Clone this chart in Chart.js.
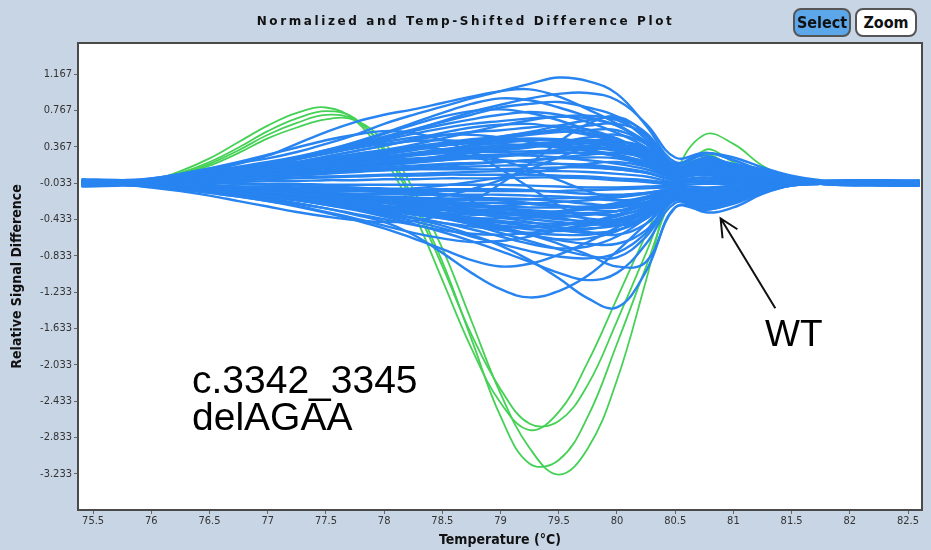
<!DOCTYPE html>
<html>
<head>
<meta charset="utf-8">
<script src="https://cdn.jsdelivr.net/npm/chart.js@4.4.1/dist/chart.umd.min.js"></script>
<style>
  body { margin: 0; background: #c8d5e5; }
  #wrap { position: relative; width: 931px; height: 550px; overflow: hidden; }
  canvas { position: absolute; left: 0; top: 0; }
  .title { position: absolute; left: 0; top: 14px; width: 931px; text-align: center;
    font: bold 12px "DejaVu Sans", sans-serif; letter-spacing: 2.6px; color: #111; }
  .btn { position: absolute; top: 8px; height: 25px; border: 2px solid #555; border-radius: 8px;
    font: bold 16px "DejaVu Sans Condensed", "DejaVu Sans", sans-serif; line-height: 25px;
    text-align: center; color: #111; }
  .sel { left: 793px; width: 54px; background: #5ca6ea; }
  .zoom { left: 855px; width: 58px; background: #fff; }
  .note { position: absolute; left: 192px; top: 361px; font: 39px "Liberation Sans", Arial, sans-serif;
    line-height: 37px; color: #000; }
  .wt { position: absolute; left: 765px; top: 315px; font: 37px "Liberation Sans", Arial, sans-serif;
    line-height: 37px; color: #000; }
</style>
</head>
<body>
<div id="wrap">
  <canvas id="plot" width="931" height="550"></canvas>
  <div class="title">Normalized and Temp-Shifted Difference Plot</div>
  <div class="btn sel">Select</div>
  <div class="btn zoom">Zoom</div>
  <div class="note">c.3342_3345<br>delAGAA</div>
  <div class="wt">WT</div>
</div>
<script>
// temperature grid (°C) shared by every curve
const temps = [75.4, 75.75, 76, 76.25, 76.5, 76.75, 77, 77.25, 77.5, 77.75, 78, 78.25, 78.5, 78.75,
  79, 79.25, 79.5, 79.75, 80, 80.25, 80.5, 80.75, 81, 81.25, 81.5, 81.75, 82, 82.25, 82.6];

const xTicks = [75.5, 76, 76.5, 77, 77.5, 78, 78.5, 79, 79.5, 80, 80.5, 81, 81.5, 82, 82.5];
const yTicks = [1.167, 0.767, 0.367, -0.033, -0.433, -0.833, -1.233, -1.633, -2.033, -2.433, -2.833, -3.233];

// blue group (wild type samples)
const wtCurves = [
  [-0.01,0.0,0.02,0.07,0.13,0.19,0.24,0.31,0.4,0.5,0.62,0.72,0.81,0.9,0.98,1.06,1.13,1.09,0.95,0.6,0.2,0.3,0.22,0.1,0.02,-0.02,-0.04,-0.03,-0.02],
  [-0.03,-0.02,0.0,0.05,0.11,0.18,0.27,0.4,0.53,0.64,0.72,0.78,0.85,0.92,0.98,1.0,0.92,0.78,0.62,0.4,0.12,0.24,0.18,0.12,0.04,-0.01,-0.03,-0.04,-0.03],
  [-0.05,-0.04,-0.01,0.03,0.08,0.13,0.18,0.24,0.3,0.37,0.45,0.55,0.65,0.75,0.83,0.9,0.95,0.96,0.88,0.62,0.25,0.3,0.25,0.14,0.05,0.0,-0.02,-0.03,-0.05],
  [-0.02,-0.02,0.0,0.04,0.1,0.15,0.2,0.26,0.33,0.4,0.48,0.56,0.64,0.72,0.8,0.84,0.86,0.8,0.7,0.45,0.18,0.27,0.16,0.06,0.0,-0.03,-0.02,-0.03,-0.04],
  [-0.04,-0.03,0.0,0.04,0.09,0.14,0.19,0.25,0.32,0.41,0.51,0.61,0.7,0.76,0.78,0.74,0.66,0.55,0.42,0.28,0.1,0.2,0.12,0.04,-0.01,-0.04,-0.03,-0.02,-0.03],
  [-0.03,-0.03,-0.02,0.01,0.05,0.09,0.13,0.17,0.22,0.27,0.33,0.39,0.46,0.53,0.6,0.66,0.7,0.71,0.66,0.48,0.15,0.22,0.18,0.08,0.01,-0.02,-0.04,-0.03,-0.02],
  [-0.02,-0.02,0.0,0.03,0.07,0.11,0.15,0.2,0.26,0.32,0.38,0.45,0.52,0.58,0.61,0.62,0.58,0.52,0.45,0.32,0.12,0.16,0.1,0.03,-0.02,-0.03,-0.03,-0.05,-0.04],
  [-0.04,-0.03,-0.01,0.02,0.06,0.1,0.14,0.18,0.22,0.26,0.3,0.34,0.38,0.42,0.46,0.5,0.53,0.55,0.55,0.4,0.1,0.14,0.08,0.02,-0.02,-0.03,-0.02,-0.03,-0.03],
  [-0.03,-0.02,0.0,0.04,0.09,0.14,0.19,0.25,0.31,0.37,0.42,0.47,0.5,0.5,0.47,0.42,0.38,0.33,0.27,0.2,0.08,0.11,0.06,0.0,-0.03,-0.03,-0.04,-0.03,-0.03],
  [-0.05,-0.04,-0.02,0.0,0.03,0.06,0.1,0.14,0.18,0.22,0.26,0.3,0.34,0.38,0.41,0.44,0.45,0.42,0.36,0.25,0.06,0.1,0.04,-0.01,-0.03,-0.04,-0.03,-0.02,-0.03],
  [-0.02,-0.03,-0.01,0.01,0.04,0.07,0.1,0.13,0.17,0.21,0.25,0.29,0.32,0.35,0.37,0.38,0.36,0.32,0.26,0.18,0.05,0.07,0.02,-0.02,-0.03,-0.03,-0.03,-0.04,-0.02],
  [-0.03,-0.03,-0.02,0.0,0.02,0.04,0.06,0.08,0.1,0.13,0.16,0.19,0.22,0.25,0.27,0.29,0.3,0.3,0.27,0.18,0.04,0.06,0.01,-0.02,-0.04,-0.03,-0.03,-0.03,-0.04],
  [-0.04,-0.03,-0.01,0.01,0.04,0.07,0.1,0.13,0.16,0.19,0.22,0.24,0.25,0.24,0.22,0.2,0.18,0.15,0.12,0.08,0.01,0.03,-0.01,-0.03,-0.03,-0.02,-0.03,-0.03,-0.03],
  [-0.03,-0.03,-0.02,-0.01,0.01,0.02,0.04,0.05,0.07,0.09,0.11,0.12,0.14,0.15,0.16,0.17,0.18,0.17,0.14,0.09,0.0,0.02,-0.02,-0.03,-0.03,-0.03,-0.04,-0.03,-0.03],
  [-0.02,-0.03,-0.02,-0.01,0.0,0.01,0.02,0.03,0.04,0.05,0.06,0.07,0.08,0.09,0.1,0.1,0.1,0.09,0.07,0.04,-0.02,0.0,-0.03,-0.03,-0.03,-0.03,-0.03,-0.02,-0.03],
  [-0.03,-0.03,-0.03,-0.03,-0.02,-0.02,-0.01,-0.01,0.0,0.0,0.01,0.01,0.02,0.02,0.02,0.03,0.03,0.02,0.0,-0.02,-0.05,-0.04,-0.04,-0.03,-0.03,-0.03,-0.03,-0.03,-0.03],
  [-0.04,-0.04,-0.04,-0.05,-0.06,-0.07,-0.08,-0.09,-0.1,-0.1,-0.11,-0.12,-0.12,-0.12,-0.12,-0.12,-0.12,-0.11,-0.1,-0.09,-0.08,-0.1,-0.07,-0.04,-0.03,-0.03,-0.03,-0.03,-0.03],
  [-0.03,-0.04,-0.05,-0.07,-0.09,-0.11,-0.13,-0.15,-0.17,-0.19,-0.2,-0.21,-0.22,-0.22,-0.22,-0.21,-0.2,-0.19,-0.17,-0.14,-0.1,-0.15,-0.12,-0.07,-0.04,-0.03,-0.03,-0.04,-0.03],
  [-0.06,-0.05,-0.05,-0.07,-0.09,-0.11,-0.13,-0.15,-0.17,-0.19,-0.21,-0.23,-0.25,-0.27,-0.29,-0.3,-0.3,-0.29,-0.26,-0.2,-0.12,-0.19,-0.15,-0.09,-0.05,-0.04,-0.03,-0.03,-0.04],
  [-0.03,-0.04,-0.06,-0.08,-0.11,-0.14,-0.17,-0.2,-0.23,-0.27,-0.3,-0.33,-0.36,-0.38,-0.38,-0.37,-0.35,-0.32,-0.28,-0.21,-0.13,-0.21,-0.17,-0.1,-0.05,-0.03,-0.04,-0.03,-0.03],
  [-0.04,-0.03,-0.05,-0.07,-0.09,-0.11,-0.13,-0.16,-0.19,-0.22,-0.25,-0.28,-0.31,-0.34,-0.37,-0.4,-0.43,-0.45,-0.44,-0.34,-0.16,-0.25,-0.2,-0.11,-0.05,-0.04,-0.03,-0.03,-0.02],
  [-0.03,-0.04,-0.06,-0.09,-0.12,-0.15,-0.18,-0.22,-0.26,-0.3,-0.34,-0.38,-0.42,-0.46,-0.5,-0.52,-0.5,-0.46,-0.4,-0.3,-0.15,-0.23,-0.18,-0.1,-0.04,-0.03,-0.03,-0.04,-0.03],
  [-0.05,-0.04,-0.04,-0.06,-0.08,-0.1,-0.12,-0.14,-0.17,-0.2,-0.23,-0.27,-0.31,-0.36,-0.41,-0.46,-0.52,-0.57,-0.6,-0.48,-0.2,-0.3,-0.24,-0.13,-0.06,-0.04,-0.03,-0.03,-0.04],
  [-0.03,-0.05,-0.07,-0.1,-0.14,-0.18,-0.23,-0.28,-0.35,-0.42,-0.5,-0.58,-0.64,-0.68,-0.67,-0.62,-0.55,-0.47,-0.38,-0.27,-0.14,-0.21,-0.16,-0.09,-0.04,-0.03,-0.03,-0.03,-0.03],
  [-0.04,-0.04,-0.06,-0.08,-0.11,-0.14,-0.17,-0.21,-0.25,-0.3,-0.35,-0.41,-0.47,-0.54,-0.62,-0.7,-0.75,-0.73,-0.62,-0.42,-0.18,-0.27,-0.21,-0.11,-0.05,-0.03,-0.04,-0.03,-0.03],
  [-0.03,-0.03,-0.05,-0.07,-0.09,-0.11,-0.13,-0.16,-0.19,-0.23,-0.28,-0.34,-0.41,-0.49,-0.58,-0.67,-0.76,-0.83,-0.85,-0.62,-0.22,-0.32,-0.26,-0.14,-0.06,-0.04,-0.03,-0.03,-0.03],
  [-0.03,-0.03,-0.04,-0.05,-0.07,-0.09,-0.11,-0.13,-0.16,-0.19,-0.22,-0.26,-0.3,-0.34,-0.37,-0.39,-0.4,-0.38,-0.34,-0.26,-0.2,-0.35,-0.3,-0.15,-0.06,-0.04,-0.03,-0.03,-0.03],
  [-0.03,-0.04,-0.06,-0.09,-0.12,-0.16,-0.2,-0.25,-0.31,-0.38,-0.46,-0.6,-0.8,-1.02,-1.2,-1.29,-1.22,-1.05,-0.78,-0.48,-0.2,-0.28,-0.22,-0.12,-0.05,-0.03,-0.03,-0.04,-0.03],
  [-0.04,-0.03,-0.05,-0.07,-0.1,-0.13,-0.16,-0.2,-0.24,-0.29,-0.35,-0.42,-0.5,-0.6,-0.72,-0.88,-1.08,-1.3,-1.4,-1.0,-0.3,-0.3,-0.24,-0.13,-0.05,-0.03,-0.03,-0.03,-0.03],
  [-0.03,-0.04,-0.06,-0.08,-0.11,-0.14,-0.18,-0.22,-0.27,-0.33,-0.4,-0.48,-0.57,-0.67,-0.78,-0.9,-1.02,-1.1,-1.02,-0.7,-0.25,-0.31,-0.23,-0.12,-0.05,-0.04,-0.03,-0.03,-0.04],
  [-0.03,-0.04,-0.07,-0.1,-0.14,-0.18,-0.23,-0.29,-0.36,-0.44,-0.53,-0.64,-0.76,-0.88,-0.95,-0.92,-0.82,-0.68,-0.52,-0.36,-0.17,-0.25,-0.19,-0.1,-0.04,-0.03,-0.03,-0.03,-0.03],
  [-0.03,-0.03,-0.04,-0.06,-0.08,-0.1,-0.12,-0.15,-0.18,-0.21,-0.25,-0.3,-0.36,-0.43,-0.51,-0.6,-0.7,-0.82,-0.95,-0.9,-0.3,-0.33,-0.25,-0.13,-0.05,-0.03,-0.04,-0.03,-0.03],
  [-0.02,-0.01,0.02,0.07,0.13,0.2,0.28,0.36,0.44,0.5,0.54,0.52,0.44,0.3,0.12,-0.08,-0.28,-0.44,-0.5,-0.4,-0.15,-0.2,-0.14,-0.07,-0.03,-0.03,-0.03,-0.03,-0.03],
  [-0.04,-0.05,-0.08,-0.12,-0.17,-0.23,-0.29,-0.35,-0.4,-0.44,-0.46,-0.45,-0.38,-0.24,-0.04,0.18,0.42,0.62,0.7,0.5,0.15,0.24,0.16,0.06,0.0,-0.02,-0.03,-0.03,-0.03],
  [-0.03,-0.02,0.0,0.03,0.07,0.12,0.18,0.25,0.33,0.42,0.52,0.63,0.74,0.84,0.9,0.88,0.8,0.7,0.6,0.42,0.15,0.2,0.14,0.05,0.0,-0.03,-0.03,-0.03,-0.03],
  [-0.03,-0.03,-0.02,0.0,0.02,0.05,0.08,0.11,0.15,0.19,0.23,0.28,0.33,0.39,0.45,0.51,0.56,0.6,0.62,0.5,0.18,0.3,0.22,0.1,0.02,-0.02,-0.03,-0.03,-0.03],
  [-0.03,-0.04,-0.05,-0.07,-0.1,-0.13,-0.16,-0.2,-0.24,-0.28,-0.32,-0.37,-0.42,-0.48,-0.54,-0.6,-0.65,-0.64,-0.56,-0.38,-0.16,-0.26,-0.2,-0.1,-0.04,-0.03,-0.03,-0.03,-0.03],
  [-0.03,-0.02,0.0,0.03,0.06,0.1,0.14,0.19,0.24,0.29,0.33,0.35,0.34,0.3,0.22,0.12,0.0,-0.12,-0.22,-0.25,-0.1,-0.12,-0.09,-0.05,-0.03,-0.03,-0.03,-0.03,-0.03],
  [-0.03,-0.04,-0.05,-0.07,-0.1,-0.13,-0.16,-0.19,-0.22,-0.24,-0.25,-0.23,-0.18,-0.1,0.0,0.12,0.25,0.36,0.4,0.3,0.1,0.17,0.11,0.04,0.0,-0.03,-0.03,-0.03,-0.03],
  [-0.03,-0.03,-0.04,-0.05,-0.07,-0.09,-0.1,-0.11,-0.12,-0.12,-0.11,-0.09,-0.06,-0.02,0.03,0.08,0.13,0.18,0.2,0.15,0.03,0.08,0.04,0.0,-0.02,-0.03,-0.03,-0.03,-0.03],
  [-0.03,-0.03,-0.01,0.02,0.05,0.08,0.12,0.16,0.2,0.24,0.28,0.33,0.38,0.43,0.48,0.52,0.54,0.5,0.42,0.28,0.08,0.12,0.06,0.01,-0.03,-0.03,-0.03,-0.03,-0.03],
  [-0.03,-0.04,-0.05,-0.06,-0.08,-0.1,-0.12,-0.14,-0.16,-0.18,-0.21,-0.24,-0.28,-0.32,-0.35,-0.36,-0.34,-0.3,-0.25,-0.18,-0.1,-0.16,-0.11,-0.06,-0.03,-0.03,-0.03,-0.03,-0.03],
  [-0.03,-0.03,-0.02,-0.01,0.01,0.03,0.05,0.07,0.1,0.13,0.17,0.21,0.26,0.31,0.36,0.4,0.42,0.42,0.38,0.26,0.08,0.13,0.08,0.02,-0.02,-0.03,-0.03,-0.03,-0.03],
  [-0.03,-0.04,-0.05,-0.07,-0.09,-0.12,-0.15,-0.18,-0.21,-0.25,-0.29,-0.34,-0.4,-0.46,-0.53,-0.6,-0.66,-0.7,-0.7,-0.55,-0.2,-0.28,-0.22,-0.11,-0.05,-0.03,-0.03,-0.03,-0.03],
  [-0.03,-0.03,-0.03,-0.03,-0.03,-0.04,-0.05,-0.06,-0.07,-0.08,-0.1,-0.12,-0.15,-0.18,-0.22,-0.26,-0.29,-0.3,-0.28,-0.2,-0.08,-0.14,-0.1,-0.05,-0.03,-0.03,-0.03,-0.03,-0.03],
  [-0.03,-0.03,-0.02,0.0,0.02,0.05,0.08,0.11,0.14,0.17,0.2,0.22,0.24,0.26,0.28,0.3,0.32,0.34,0.34,0.26,0.1,0.18,0.13,0.05,0.0,-0.03,-0.03,-0.03,-0.03],
  [-0.04,-0.03,-0.01,0.02,0.06,0.1,0.15,0.2,0.26,0.32,0.38,0.44,0.49,0.53,0.55,0.58,0.6,0.56,0.46,0.3,0.1,0.18,0.1,0.02,-0.02,-0.03,-0.03,-0.03,-0.03],
  [-0.03,-0.03,-0.02,0.01,0.04,0.08,0.12,0.17,0.22,0.27,0.32,0.37,0.41,0.45,0.48,0.53,0.6,0.66,0.68,0.52,0.16,0.24,0.14,0.04,-0.01,-0.03,-0.03,-0.03,-0.03],
  [-0.03,-0.02,0.0,0.03,0.07,0.12,0.17,0.23,0.29,0.35,0.4,0.43,0.44,0.42,0.4,0.38,0.36,0.33,0.28,0.2,0.07,0.12,0.07,0.01,-0.03,-0.03,-0.03,-0.03,-0.03],
  [-0.03,-0.03,-0.02,0.0,0.03,0.06,0.09,0.12,0.15,0.19,0.23,0.27,0.3,0.32,0.33,0.36,0.4,0.41,0.36,0.22,0.05,0.1,0.05,0.0,-0.03,-0.03,-0.03,-0.03,-0.03],
  [-0.04,-0.04,-0.03,-0.01,0.01,0.04,0.07,0.1,0.13,0.16,0.19,0.22,0.25,0.27,0.28,0.27,0.25,0.22,0.18,0.12,0.03,0.07,0.03,-0.01,-0.03,-0.03,-0.03,-0.03,-0.03],
  [-0.03,-0.03,-0.02,0.0,0.02,0.04,0.06,0.08,0.1,0.12,0.14,0.16,0.18,0.19,0.2,0.22,0.24,0.25,0.24,0.16,0.04,0.08,0.04,0.0,-0.03,-0.03,-0.03,-0.03,-0.03],
  [-0.02,-0.02,-0.01,0.0,0.02,0.04,0.06,0.08,0.09,0.1,0.11,0.12,0.12,0.12,0.12,0.13,0.14,0.14,0.12,0.08,0.0,0.03,0.0,-0.02,-0.03,-0.03,-0.03,-0.03,-0.03],
  [-0.04,-0.04,-0.03,-0.02,-0.01,0.0,0.01,0.02,0.03,0.04,0.05,0.05,0.06,0.06,0.06,0.06,0.05,0.04,0.02,0.0,-0.03,-0.02,-0.03,-0.03,-0.03,-0.03,-0.03,-0.03,-0.03],
  [-0.03,-0.03,-0.03,-0.03,-0.03,-0.04,-0.04,-0.04,-0.05,-0.05,-0.05,-0.05,-0.05,-0.05,-0.05,-0.06,-0.07,-0.08,-0.08,-0.07,-0.06,-0.08,-0.06,-0.04,-0.03,-0.03,-0.03,-0.03,-0.03],
  [-0.02,-0.03,-0.04,-0.05,-0.06,-0.07,-0.07,-0.08,-0.08,-0.09,-0.09,-0.1,-0.1,-0.1,-0.1,-0.11,-0.13,-0.15,-0.16,-0.14,-0.1,-0.13,-0.09,-0.05,-0.03,-0.03,-0.03,-0.03,-0.03],
  [-0.03,-0.04,-0.05,-0.06,-0.08,-0.1,-0.12,-0.13,-0.14,-0.15,-0.15,-0.16,-0.16,-0.16,-0.16,-0.17,-0.18,-0.2,-0.22,-0.2,-0.12,-0.17,-0.12,-0.06,-0.03,-0.03,-0.03,-0.03,-0.03],
  [-0.04,-0.05,-0.06,-0.08,-0.1,-0.12,-0.14,-0.16,-0.18,-0.2,-0.22,-0.23,-0.24,-0.25,-0.25,-0.26,-0.28,-0.32,-0.34,-0.28,-0.15,-0.22,-0.16,-0.08,-0.04,-0.03,-0.03,-0.03,-0.03],
  [-0.03,-0.04,-0.06,-0.09,-0.12,-0.15,-0.18,-0.21,-0.24,-0.27,-0.29,-0.3,-0.3,-0.29,-0.28,-0.26,-0.24,-0.22,-0.19,-0.15,-0.1,-0.14,-0.1,-0.05,-0.03,-0.03,-0.03,-0.03,-0.03],
  [-0.03,-0.03,-0.04,-0.06,-0.08,-0.1,-0.12,-0.15,-0.18,-0.21,-0.24,-0.27,-0.3,-0.32,-0.33,-0.35,-0.38,-0.42,-0.44,-0.36,-0.18,-0.24,-0.17,-0.08,-0.04,-0.03,-0.03,-0.03,-0.03],
  [-0.04,-0.05,-0.07,-0.09,-0.12,-0.15,-0.18,-0.22,-0.26,-0.3,-0.34,-0.37,-0.4,-0.42,-0.42,-0.41,-0.4,-0.38,-0.34,-0.27,-0.15,-0.22,-0.16,-0.08,-0.04,-0.03,-0.03,-0.03,-0.03],
  [-0.03,-0.04,-0.05,-0.07,-0.09,-0.11,-0.14,-0.17,-0.21,-0.25,-0.29,-0.33,-0.37,-0.41,-0.45,-0.5,-0.55,-0.58,-0.55,-0.42,-0.18,-0.27,-0.2,-0.1,-0.04,-0.03,-0.03,-0.03,-0.03],
  [-0.03,-0.04,-0.06,-0.08,-0.11,-0.14,-0.18,-0.22,-0.27,-0.32,-0.37,-0.42,-0.47,-0.51,-0.55,-0.58,-0.6,-0.6,-0.55,-0.42,-0.19,-0.28,-0.21,-0.1,-0.04,-0.03,-0.03,-0.03,-0.03],
  [-0.03,-0.05,-0.07,-0.1,-0.13,-0.17,-0.21,-0.26,-0.31,-0.37,-0.43,-0.49,-0.55,-0.59,-0.6,-0.58,-0.54,-0.5,-0.45,-0.36,-0.18,-0.25,-0.18,-0.09,-0.04,-0.03,-0.03,-0.03,-0.03],
  [-0.03,-0.02,0.0,0.04,0.08,0.13,0.18,0.24,0.3,0.37,0.44,0.51,0.57,0.62,0.65,0.68,0.7,0.68,0.6,0.42,0.14,0.22,0.14,0.04,-0.01,-0.03,-0.03,-0.03,-0.03],
  [-0.04,-0.03,-0.01,0.03,0.07,0.12,0.17,0.23,0.3,0.38,0.46,0.54,0.61,0.67,0.72,0.75,0.72,0.64,0.52,0.36,0.12,0.2,0.12,0.03,-0.02,-0.03,-0.03,-0.03,-0.03],
  [-0.03,-0.04,-0.05,-0.07,-0.1,-0.13,-0.17,-0.21,-0.26,-0.32,-0.38,-0.45,-0.53,-0.62,-0.7,-0.78,-0.84,-0.86,-0.8,-0.58,-0.22,-0.3,-0.22,-0.1,-0.04,-0.03,-0.03,-0.03,-0.03],
  [-0.03,-0.04,-0.06,-0.08,-0.1,-0.13,-0.16,-0.2,-0.24,-0.28,-0.32,-0.36,-0.4,-0.45,-0.5,-0.54,-0.56,-0.54,-0.48,-0.36,-0.17,-0.25,-0.18,-0.09,-0.04,-0.03,-0.03,-0.03,-0.03],
  [-0.03,-0.02,-0.01,0.01,0.04,0.07,0.1,0.13,0.16,0.2,0.24,0.28,0.31,0.34,0.36,0.38,0.42,0.47,0.5,0.4,0.14,0.22,0.14,0.04,-0.01,-0.03,-0.03,-0.03,-0.03],
  [-0.03,-0.04,-0.05,-0.06,-0.08,-0.1,-0.12,-0.14,-0.16,-0.17,-0.18,-0.19,-0.2,-0.2,-0.2,-0.21,-0.23,-0.26,-0.28,-0.24,-0.13,-0.2,-0.14,-0.07,-0.03,-0.03,-0.03,-0.03,-0.03],
  [-0.07,-0.06,-0.04,-0.02,0.01,0.05,0.09,0.14,0.19,0.24,0.29,0.34,0.38,0.41,0.43,0.44,0.44,0.43,0.4,0.3,0.1,0.16,0.1,0.03,-0.01,-0.04,-0.05,-0.06,-0.06],
  [0.0,0.0,-0.01,-0.03,-0.05,-0.08,-0.11,-0.14,-0.17,-0.21,-0.25,-0.29,-0.33,-0.37,-0.4,-0.43,-0.46,-0.48,-0.47,-0.36,-0.15,-0.22,-0.15,-0.07,-0.02,-0.01,0.0,-0.01,0.0],
  [-0.06,-0.05,-0.03,0.0,0.03,0.07,0.11,0.15,0.19,0.23,0.26,0.28,0.3,0.31,0.31,0.32,0.33,0.35,0.36,0.28,0.08,0.14,0.08,0.02,-0.02,-0.04,-0.05,-0.05,-0.06],
  [0.01,0.0,-0.02,-0.04,-0.07,-0.1,-0.13,-0.16,-0.2,-0.24,-0.28,-0.31,-0.33,-0.35,-0.36,-0.37,-0.37,-0.36,-0.34,-0.27,-0.13,-0.2,-0.14,-0.06,-0.02,-0.01,0.0,0.0,-0.01],
  [-0.06,-0.05,-0.03,-0.01,0.02,0.05,0.08,0.11,0.14,0.17,0.2,0.23,0.26,0.3,0.34,0.38,0.42,0.44,0.43,0.34,0.12,0.2,0.12,0.03,-0.02,-0.04,-0.06,-0.05,-0.05],
  [0.0,-0.01,-0.02,-0.04,-0.06,-0.08,-0.1,-0.12,-0.14,-0.17,-0.2,-0.23,-0.26,-0.29,-0.31,-0.33,-0.35,-0.37,-0.38,-0.31,-0.14,-0.21,-0.14,-0.06,-0.02,-0.01,-0.01,0.0,-0.01],
  [-0.05,-0.04,-0.03,0.0,0.03,0.07,0.11,0.16,0.21,0.26,0.31,0.36,0.4,0.43,0.45,0.46,0.45,0.42,0.37,0.27,0.08,0.13,0.07,0.01,-0.03,-0.04,-0.05,-0.04,-0.05],
  [-0.02,-0.03,-0.05,-0.07,-0.1,-0.13,-0.16,-0.2,-0.24,-0.28,-0.32,-0.36,-0.39,-0.42,-0.45,-0.47,-0.48,-0.47,-0.43,-0.33,-0.16,-0.23,-0.16,-0.08,-0.03,-0.02,-0.02,-0.01,-0.02],
  [-0.06,-0.04,-0.02,0.01,0.04,0.07,0.1,0.12,0.14,0.16,0.18,0.2,0.22,0.24,0.26,0.29,0.33,0.38,0.42,0.36,0.12,0.2,0.13,0.04,-0.01,-0.04,-0.05,-0.06,-0.05],
  [-0.01,-0.02,-0.03,-0.05,-0.07,-0.09,-0.11,-0.13,-0.15,-0.17,-0.19,-0.21,-0.23,-0.26,-0.3,-0.35,-0.41,-0.47,-0.5,-0.42,-0.18,-0.26,-0.18,-0.08,-0.03,-0.02,-0.01,-0.01,-0.02],
  [-0.05,-0.04,-0.02,0.0,0.03,0.06,0.09,0.13,0.17,0.21,0.25,0.29,0.33,0.36,0.38,0.39,0.38,0.36,0.32,0.24,0.09,0.15,0.09,0.02,-0.02,-0.04,-0.04,-0.05,-0.05],
  [-0.02,-0.03,-0.04,-0.06,-0.08,-0.11,-0.14,-0.17,-0.21,-0.25,-0.3,-0.35,-0.4,-0.44,-0.47,-0.5,-0.52,-0.53,-0.5,-0.4,-0.18,-0.26,-0.19,-0.09,-0.03,-0.02,-0.02,-0.02,-0.01],
  [-0.06,-0.05,-0.04,-0.02,0.0,0.02,0.04,0.06,0.08,0.1,0.12,0.14,0.16,0.18,0.2,0.22,0.25,0.28,0.3,0.24,0.08,0.14,0.08,0.02,-0.02,-0.04,-0.05,-0.05,-0.06],
  [-0.01,-0.02,-0.03,-0.05,-0.07,-0.08,-0.09,-0.1,-0.11,-0.12,-0.13,-0.14,-0.16,-0.19,-0.22,-0.25,-0.28,-0.3,-0.3,-0.24,-0.11,-0.17,-0.12,-0.05,-0.02,-0.01,-0.01,-0.02,-0.01],
  [-0.05,-0.04,-0.03,-0.01,0.01,0.03,0.05,0.08,0.11,0.14,0.18,0.22,0.27,0.32,0.36,0.39,0.4,0.38,0.33,0.24,0.08,0.14,0.08,0.02,-0.02,-0.04,-0.05,-0.05,-0.04]
];

// green group (c.3342_3345delAGAA samples)
const mutantCurves = [
  [-0.03,-0.02,0.0,0.1,0.24,0.42,0.6,0.74,0.8,0.66,0.25,-0.35,-1.1,-1.85,-2.45,-2.75,-2.55,-2.0,-1.3,-0.6,0.05,0.28,0.14,0.02,-0.02,-0.03,-0.03,-0.03,-0.03],
  [-0.03,-0.02,0.0,0.08,0.2,0.36,0.54,0.68,0.76,0.68,0.32,-0.25,-0.95,-1.7,-2.3,-2.68,-2.65,-2.25,-1.55,-0.8,-0.05,0.25,0.12,0.02,-0.02,-0.03,-0.03,-0.03,-0.03],
  [-0.03,-0.02,0.0,0.07,0.18,0.33,0.5,0.63,0.72,0.66,0.35,-0.2,-0.9,-1.75,-2.6,-3.12,-3.08,-2.6,-1.8,-0.95,-0.1,0.33,0.2,0.04,-0.02,-0.03,-0.03,-0.03,-0.03],
  [-0.03,-0.02,0.0,0.06,0.16,0.3,0.46,0.58,0.67,0.66,0.42,-0.1,-0.75,-1.55,-2.35,-2.95,-3.24,-2.95,-2.2,-1.1,0.05,0.5,0.4,0.16,0.02,-0.03,-0.03,-0.03,-0.03]
];

// arrow pointing at the WT curve, in data units
const arrowTip = {x: 80.89, y: -0.42};
const arrowTail = {x: 81.36, y: -1.41};

const blue = '#2784f0';
const green = '#45d155';
const tickFont = {family: '"Liberation Sans Narrow", "DejaVu Sans Condensed", sans-serif', size: 11};
const titleFont = {family: '"DejaVu Sans Condensed", sans-serif', size: 14, weight: 'bold'};

const toPoints = vals => vals.map((v, i) => ({x: temps[i], y: v}));

const datasets = [];
wtCurves.forEach((c, i) => datasets.push({
  label: 'WT ' + (i + 1), data: toPoints(c), borderColor: blue, borderWidth: 2.4,
  pointRadius: 0, tension: 0.4
}));
mutantCurves.forEach((c, i) => datasets.push({
  label: 'delAGAA ' + (i + 1), data: toPoints(c), borderColor: green, borderWidth: 1.8,
  pointRadius: 0, tension: 0.4
}));

const framePlugin = {
  id: 'frame',
  beforeDraw(chart) {
    const {ctx, chartArea: a} = chart;
    ctx.save();
    ctx.fillStyle = '#fff';
    ctx.fillRect(a.left, a.top, a.right - a.left, a.bottom - a.top);
    ctx.restore();
  },
  afterDraw(chart) {
    const {ctx, chartArea: a, scales} = chart;
    ctx.save();
    ctx.strokeStyle = '#4a4a4a';
    ctx.lineWidth = 2;
    ctx.strokeRect(a.left, a.top, a.right - a.left, a.bottom - a.top);
    // arrow
    const tx = scales.x.getPixelForValue(arrowTip.x), ty = scales.y.getPixelForValue(arrowTip.y);
    const sx = scales.x.getPixelForValue(arrowTail.x), sy = scales.y.getPixelForValue(arrowTail.y);
    const ang = Math.atan2(ty - sy, tx - sx);
    ctx.strokeStyle = '#111';
    ctx.lineWidth = 2;
    ctx.beginPath();
    ctx.moveTo(sx, sy);
    ctx.lineTo(tx, ty);
    ctx.moveTo(tx - 20 * Math.cos(ang - 0.45), ty - 20 * Math.sin(ang - 0.45));
    ctx.lineTo(tx, ty);
    ctx.lineTo(tx - 20 * Math.cos(ang + 0.45), ty - 20 * Math.sin(ang + 0.45));
    ctx.stroke();
    ctx.restore();
  }
};

new Chart(document.getElementById('plot'), {
  type: 'line',
  data: {datasets},
  options: {
    responsive: false,
    animation: false,
    devicePixelRatio: 1,
    layout: {padding: {top: 43, right: 9, left: 0, bottom: 0}},
    plugins: {legend: {display: false}, tooltip: {enabled: false}},
    scales: {
      x: {
        type: 'linear', min: 75.37, max: 82.62,
        afterBuildTicks: s => { s.ticks = xTicks.map(v => ({value: v})); },
        afterFit: s => { s.height = 40; },
        ticks: {font: tickFont, color: '#333', padding: 1, maxRotation: 0, autoSkip: false, callback: v => String(v)},
        grid: {drawOnChartArea: false, tickLength: 4, color: '#666'},
        border: {display: false},
        title: {display: true, text: 'Temperature (°C)', color: '#111', font: titleFont, padding: {top: 0, bottom: 1}}
      },
      y: {
        min: -3.63, max: 1.51,
        afterBuildTicks: s => { s.ticks = yTicks.map(v => ({value: v})); },
        afterFit: s => { s.width = 78; },
        ticks: {font: tickFont, color: '#333', padding: 2, autoSkip: false, callback: v => String(v)},
        grid: {drawOnChartArea: false, tickLength: 4, color: '#666'},
        border: {display: false},
        title: {display: true, text: 'Relative Signal Difference', color: '#111', font: titleFont, padding: {top: 9, bottom: 0}}
      }
    }
  },
  plugins: [framePlugin]
});
</script>
</body>
</html>
